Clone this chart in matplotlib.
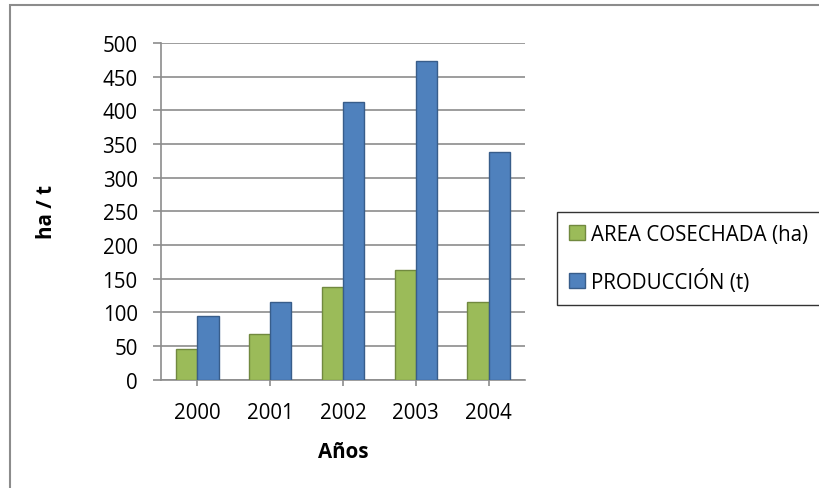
import matplotlib
matplotlib.use("Agg")
import matplotlib.pyplot as plt
import numpy as np
from matplotlib.patches import Rectangle

years = ["2000", "2001", "2002", "2003", "2004"]
area = [45, 68, 137, 163, 115]
produccion = [95, 115, 412, 473, 338]
labels = ["AREA COSECHADA (ha)", "PRODUCCIÓN (t)"]
yticks = [0, 50, 100, 150, 200, 250, 300, 350, 400, 450, 500]

plt.rcParams['font.family'] = ['Open Sans', 'DejaVu Sans']

W, H = 819, 489
fig = plt.figure(figsize=(W / 100, H / 100), dpi=100)
fig.patch.set_facecolor("white")

# outer chart border
fig.patches.append(Rectangle((10 / W, -0.05), 1.1, 1 - 6 / H + 0.05,
                             transform=fig.transFigure, fill=False,
                             edgecolor="#8c8c8c", linewidth=1.5))

ax = fig.add_axes([161 / W, 1 - 380.7 / H, 364 / W, 336.7 / H])
x = np.arange(len(years))
bw = 0.29
grid_c = "#8c8c8c"
fs = 14.8
b1 = ax.bar(x - bw / 2, area, bw, color="#9BBB59", edgecolor="#71893F",
            linewidth=1.0, zorder=3, label=labels[0])
b2 = ax.bar(x + bw / 2, produccion, bw, color="#4F81BD", edgecolor="#385D8A",
            linewidth=1.0, zorder=3, label=labels[1])

ax.set_xlim(-0.5, 4.5)
ax.set_ylim(0, 500)
ax.set_yticks(yticks)
ax.set_xticks(x)
ax.set_xticklabels(years)
ax.yaxis.grid(True, color=grid_c, linewidth=1.2, zorder=0)
ax.set_axisbelow(True)
for s in ["top", "right"]:
    ax.spines[s].set_visible(False)
for s in ["left", "bottom"]:
    ax.spines[s].set_color(grid_c)
    ax.spines[s].set_linewidth(1.2)
ax.tick_params(axis="y", length=5.8, width=1.2, color=grid_c, pad=11, labelsize=fs)
ax.tick_params(axis="x", length=4.5, width=1.2, color=grid_c, pad=11.5, labelsize=fs)

ax.set_xlabel("Años", fontsize=fs, fontweight="bold", labelpad=13)
ax.set_ylabel("ha / t", fontsize=fs, fontweight="bold", labelpad=33)

leg = fig.legend(handles=[b1, b2], labels=labels, loc="upper left",
                 bbox_to_anchor=(557 / W, 1 - 212.7 / H),
                 frameon=True, fancybox=False, fontsize=fs,
                 handlelength=0.75, handleheight=0.75, handletextpad=0.3,
                 labelspacing=1.15, borderpad=0.6, borderaxespad=0)
leg.get_frame().set_edgecolor("black")
leg.get_frame().set_linewidth(1.0)

fig.savefig("out.png", dpi=100)
